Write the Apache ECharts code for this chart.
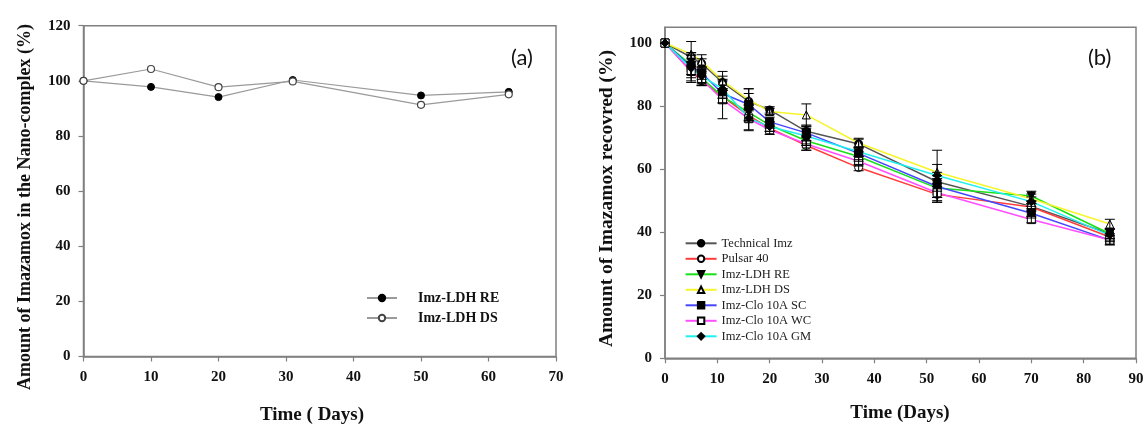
<!DOCTYPE html>
<html>
<head>
<meta charset="utf-8">
<script src="https://cdn.jsdelivr.net/npm/echarts@6/dist/echarts.min.js"></script>
<style>html,body{margin:0;padding:0;background:#fff}#c{width:1148px;height:426px}</style>
</head>
<body>
<div id="c"></div>
<script>
// ---- Panel (a) data ----
const daysA = [0, 10, 20, 31, 50, 63];
const ldhRE_A = [100, 97.8, 94.1, 100.3, 94.7, 96.0];
const ldhDS_A = [100, 104.3, 97.7, 99.8, 91.3, 95.1];
const ticksA_x = [0, 10, 20, 30, 40, 50, 60, 70];
const ticksA_y = [0, 20, 40, 60, 80, 100, 120];

// ---- Panel (b) data ----
const daysB = [0, 5, 7, 11, 16, 20, 27, 37, 52, 70, 85];
const technical = [100, 95.5, 93.5, 87.5, 81.5, 78.8, 72, 68, 56, 48.2, 39.5];
const pulsar    = [100, 91, 88, 83, 77, 73, 67.5, 60.5, 52, 48, 38.5];
const ldhRE     = [100, 93, 89, 83, 78, 74, 69, 64, 54, 51.5, 39.5];
const ldhDS     = [100, 96.5, 94.3, 88, 82, 78.3, 77.2, 68.3, 59, 50.6, 42.6];
const cloSC     = [100, 92.5, 90.5, 84, 80.5, 75, 71.5, 65, 54.5, 46, 37.5];
const cloWC     = [100, 91, 88.5, 82, 76, 72.5, 68, 62.5, 52.5, 44, 37.5];
const cloGM     = [100, 92, 89.5, 85.5, 76.2, 73.5, 70.5, 65.5, 58, 49.7, 39];
const errTechnical = [0, 1.5, 1.5, 2, 2.5, 1, 1.5, 1.5, 3, 1.5, 1.5];
const errPulsar    = [0, 2, 1.5, 2, 2, 1, 1.5, 1, 2.5, 1, 1];
const errRE        = [0, 3, 2, 2, 2.5, 1, 1.5, 1.5, 3, 1.5, 1.5];
const errDS        = [0, 4, 2, 3, 3.5, 1, 3.5, 1.5, 2.5, 1.5, 1.5];
const errSC        = [0, 2.5, 2, 1.5, 5, 1.5, 2.5, 2, 3.5, 1.5, 1.5];
const errWC        = [0, 3, 2, 6, 3.5, 1.5, 2, 1.5, 3, 1, 1.5];
const errGM        = [0, 4.5, 2, 3, 4, 1.5, 2.5, 1.5, 8, 1.5, 2];
const ticksB_x = [0, 10, 20, 30, 40, 50, 60, 70, 80, 90];
const ticksB_y = [0, 20, 40, 60, 80, 100];

const SERIF = '"Liberation Serif","Times New Roman",serif';
const AX = '#808080';

function pairs(xs, ys) { return xs.map((x, i) => [x, ys[i]]); }
function triples(xs, ys, es) { return xs.map((x, i) => [x, ys[i], es[i]]); }

const axisCommon = {
  type: 'value',
  axisLine: { show: true, lineStyle: { color: AX, width: 1.5 } },
  axisTick: { show: true, inside: false, length: 5, lineStyle: { color: AX, width: 1.2 } },
  splitLine: { show: false },
  axisLabel: { fontFamily: SERIF, fontWeight: 'bold', fontSize: 15, color: '#111', margin: 13 }
};
function ax(extra) {
  const o = JSON.parse(JSON.stringify(axisCommon));
  for (const k in extra) {
    if (typeof extra[k] === 'object' && !Array.isArray(extra[k]) && o[k]) Object.assign(o[k], extra[k]);
    else o[k] = extra[k];
  }
  return o;
}

const bSeries = [
  { name: 'Technical Imz', data: technical, err: errTechnical, color: '#555555', symbol: 'circle', fill: '#000', rot: 0 },
  { name: 'Pulsar 40', data: pulsar, err: errPulsar, color: '#ff3b3b', symbol: 'circle', fill: '#fff', rot: 0 },
  { name: 'Imz-LDH RE', data: ldhRE, err: errRE, color: '#19e019', symbol: 'triangle', fill: '#000', rot: 180 },
  { name: 'Imz-LDH DS', data: ldhDS, err: errDS, color: '#f5f52a', symbol: 'triangle', fill: '#fff', rot: 0 },
  { name: 'Imz-Clo 10A SC', data: cloSC, err: errSC, color: '#4646ff', symbol: 'rect', fill: '#000', rot: 0 },
  { name: 'Imz-Clo 10A WC', data: cloWC, err: errWC, color: '#ff4dff', symbol: 'rect', fill: '#fff', rot: 0 },
  { name: 'Imz-Clo 10A GM', data: cloGM, err: errGM, color: '#1ef0f0', symbol: 'diamond', fill: '#000', rot: 0 }
];

function errRender(params, api) {
  const x = api.value(0), y = api.value(1), e = api.value(2);
  if (!e) return null;
  const top = api.coord([x, y + e]);
  const bot = api.coord([x, y - e]);
  const w = 5;
  const st = { stroke: '#000', lineWidth: 1 };
  return {
    type: 'group',
    children: [
      { type: 'line', shape: { x1: top[0], y1: top[1], x2: bot[0], y2: bot[1] }, style: st },
      { type: 'line', shape: { x1: top[0] - w, y1: top[1], x2: top[0] + w, y2: top[1] }, style: st },
      { type: 'line', shape: { x1: bot[0] - w, y1: bot[1], x2: bot[0] + w, y2: bot[1] }, style: st }
    ]
  };
}

const series = [
  {
    name: 'a:Imz-LDH RE', type: 'line', xAxisIndex: 0, yAxisIndex: 0,
    data: pairs(daysA, ldhRE_A), symbol: 'circle', symbolSize: 7,
    lineStyle: { color: '#9a9a9a', width: 1.2 }, itemStyle: { color: '#000', borderColor: '#000', borderWidth: 1 }
  },
  {
    name: 'a:Imz-LDH DS', type: 'line', xAxisIndex: 0, yAxisIndex: 0,
    data: pairs(daysA, ldhDS_A), symbol: 'circle', symbolSize: 7,
    lineStyle: { color: '#9a9a9a', width: 1.2 }, itemStyle: { color: '#fff', borderColor: '#444', borderWidth: 1.2 }
  }
];
bSeries.forEach(s => {
  series.push({
    name: s.name, type: 'line', xAxisIndex: 1, yAxisIndex: 1,
    data: pairs(daysB, s.data), symbol: s.symbol, symbolRotate: s.rot, symbolSize: 8,
    lineStyle: { color: s.color, width: 1.5 },
    itemStyle: { color: s.fill, borderColor: '#000', borderWidth: 1 },
    z: 3
  });
});
bSeries.forEach(s => {
  series.push({
    type: 'custom', xAxisIndex: 1, yAxisIndex: 1, renderItem: errRender,
    data: triples(daysB, s.data, s.err), z: 4, silent: true
  });
});

function title(text, x, y, size, rotate) {
  return {
    type: 'text', x: x, y: y, rotation: rotate ? Math.PI / 2 : 0,
    style: { text: text, font: 'bold ' + size + 'px ' + SERIF, fill: '#111', align: 'center', verticalAlign: 'middle' }
  };
}

const option = {
  animation: false,
  backgroundColor: '#fff',
  grid: [
    { left: 83.5, right: 1148 - 556, top: 25.7, bottom: 426 - 356.5, show: true, borderColor: AX, borderWidth: 1.5, backgroundColor: 'transparent' },
    { left: 665, right: 1148 - 1136, top: 27.3, bottom: 426 - 358.3, show: true, borderColor: AX, borderWidth: 1.5, backgroundColor: 'transparent' }
  ],
  xAxis: [
    ax({ gridIndex: 0, min: 0, max: 70, interval: 10,
         axisLabel: { customValues: ticksA_x }, axisTick: { customValues: ticksA_x } }),
    ax({ gridIndex: 1, min: 0, max: 90, interval: 10,
         axisLabel: { customValues: ticksB_x }, axisTick: { customValues: ticksB_x } })
  ],
  yAxis: [
    ax({ gridIndex: 0, min: 0, max: 120, interval: 20,
         axisLabel: { customValues: ticksA_y }, axisTick: { customValues: ticksA_y } }),
    ax({ gridIndex: 1, min: 0, max: 105, interval: 20,
         axisLabel: { customValues: ticksB_y }, axisTick: { customValues: ticksB_y } })
  ],
  legend: [
    {
      data: ['a:Imz-LDH RE', 'a:Imz-LDH DS'], formatter: n => n.slice(2),
      orient: 'vertical', left: 366, top: 291, padding: 0,
      itemWidth: 30, itemHeight: 8, itemGap: 6,
      textStyle: { fontFamily: SERIF, fontWeight: 'bold', fontSize: 14, color: '#111', padding: [0, 0, 0, 16] }
    },
    {
      data: bSeries.map(s => s.name),
      orient: 'vertical', left: 684.6, top: 236.8, padding: 0,
      itemWidth: 31, itemHeight: 8, itemGap: 2.5,
      textStyle: { fontFamily: SERIF, fontSize: 12.5, color: '#222' }
    }
  ],
  graphic: [
    { type: 'text', left: 511, top: 47, style: { text: '(a)', font: '22px Lato, "Liberation Sans", sans-serif', fill: '#111' } },
    { type: 'text', left: 1088, top: 47, style: { text: '(b)', font: '22px Lato, "Liberation Sans", sans-serif', fill: '#111' } },
    title('Amount of Imazamox in the Nano-complex (%)', 25, 207, 18, true),
    title('Amount of Imazamox recovred (%)', 606.6, 198.5, 19.5, true),
    title('Time ( Days)', 312, 415, 19, false),
    title('Time (Days)', 900, 413, 19, false)
  ],
  series: series
};

const chart = echarts.init(document.getElementById('c'), null, { renderer: 'canvas' });
chart.setOption(option);
</script>
</body>
</html>
